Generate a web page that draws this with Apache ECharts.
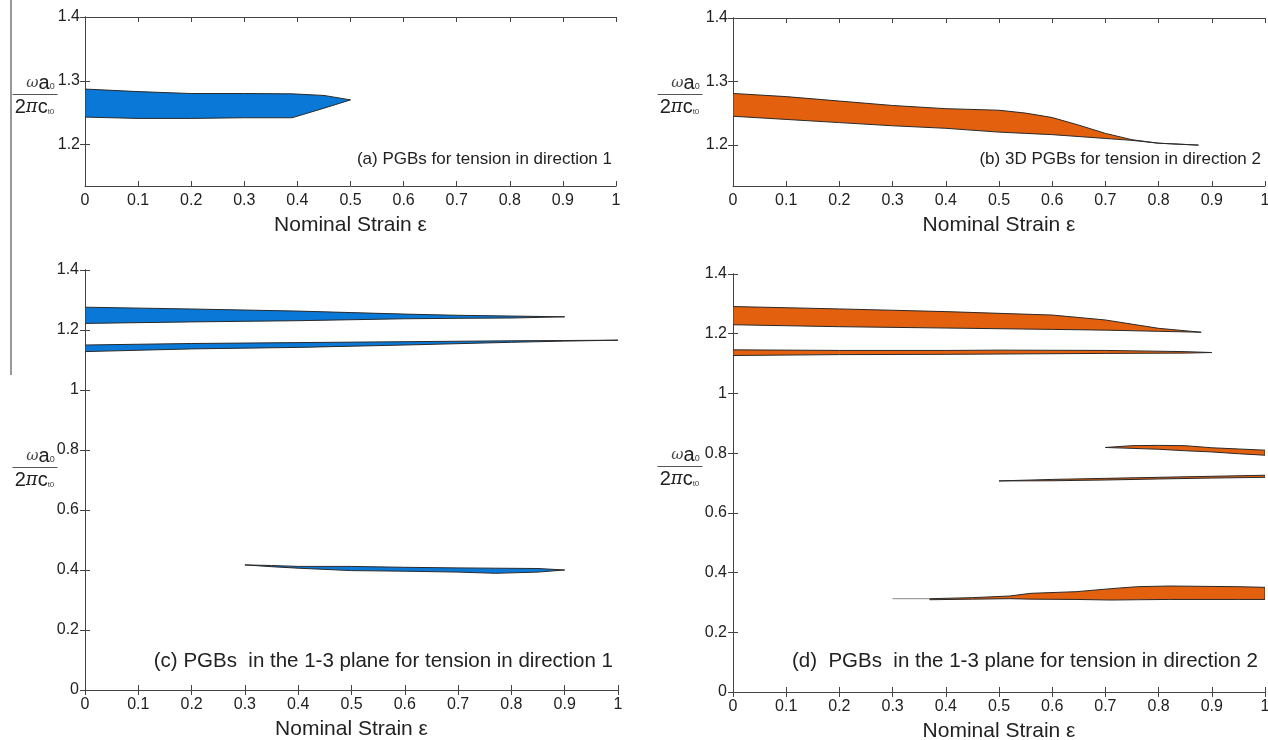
<!DOCTYPE html>
<html>
<head>
<meta charset="utf-8">
<script src="https://cdn.jsdelivr.net/npm/echarts@6/dist/echarts.min.js"></script>
<style>
  html, body { margin: 0; padding: 0; background: #fff; }
  #main { width: 1268px; height: 740px; }
</style>
</head>
<body>
<div id="main"></div>
<script>
// strain ticks (shared by all panels)
var strainTicks = [0, 0.1, 0.2, 0.3, 0.4, 0.5, 0.6, 0.7, 0.8, 0.9, 1];
var topTicks = [1.2, 1.3, 1.4];

// (a) PGB for tension in direction 1
var aX = [0, 0.1, 0.2, 0.3, 0.39, 0.45, 0.5];
var aUp = [1.287, 1.283, 1.280, 1.280, 1.2795, 1.277, 1.270];
var aLo = [1.243, 1.241, 1.241, 1.242, 1.242, 1.257, 1.270];

// (b) 3D PGB for tension in direction 2
var bX = [0, 0.1, 0.2, 0.3, 0.4, 0.5, 0.55, 0.6, 0.65, 0.7, 0.75, 0.8, 0.875];
var bUp = [1.281, 1.276, 1.269, 1.262, 1.257, 1.2545, 1.250, 1.243, 1.231, 1.218, 1.208, 1.2025, 1.1995];
var bLo = [1.245, 1.240, 1.235, 1.230, 1.226, 1.220, 1.218, 1.216, 1.213, 1.210, 1.207, 1.2025, 1.1995];

// (c) 1-3 plane, tension in direction 1
var c1X = [0, 0.2, 0.4, 0.6, 0.7, 0.8, 0.9];
var c1Up = [1.276, 1.270, 1.263, 1.253, 1.249, 1.2465, 1.244];
var c1Lo = [1.222, 1.227, 1.231, 1.2375, 1.239, 1.240, 1.244];
var c2X = [0, 0.2, 0.4, 0.6, 0.8, 0.9, 1];
var c2Up = [1.150, 1.155, 1.158, 1.161, 1.164, 1.165, 1.166];
var c2Lo = [1.128, 1.137, 1.142, 1.150, 1.159, 1.163, 1.166];
var c3X = [0.3, 0.35, 0.4, 0.5, 0.6, 0.7, 0.77, 0.85, 0.9];
var c3Up = [0.417, 0.415, 0.412, 0.412, 0.409, 0.407, 0.406, 0.405, 0.400];
var c3Lo = [0.417, 0.411, 0.406, 0.398, 0.396, 0.393, 0.389, 0.393, 0.400];

// (d) 1-3 plane, tension in direction 2
var d1X = [0, 0.2, 0.4, 0.6, 0.7, 0.8, 0.88];
var d1Up = [1.291, 1.283, 1.274, 1.2625, 1.246, 1.218, 1.205];
var d1Lo = [1.230, 1.2235, 1.219, 1.2145, 1.212, 1.208, 1.205];
var d2X = [0, 0.2, 0.4, 0.5, 0.7, 0.85, 0.9];
var d2Up = [1.146, 1.144, 1.144, 1.145, 1.144, 1.140, 1.137];
var d2Lo = [1.127, 1.130, 1.131, 1.132, 1.134, 1.135, 1.137];
var d3X = [0.7, 0.75, 0.8, 0.85, 0.9, 0.95, 1];
var d3Up = [0.819, 0.825, 0.826, 0.825, 0.818, 0.814, 0.810];
var d3Lo = [0.819, 0.816, 0.813, 0.808, 0.804, 0.798, 0.793];
var d4X = [0.5, 0.6, 0.7, 0.8, 0.9, 1];
var d4Up = [0.707, 0.712, 0.7155, 0.719, 0.7225, 0.726];
var d4Lo = [0.707, 0.7075, 0.710, 0.7135, 0.7165, 0.719];
var d5X = [0.37, 0.45, 0.52, 0.56, 0.645, 0.71, 0.76, 0.82, 0.95, 1];
var d5Up = [0.3125, 0.316, 0.3215, 0.3305, 0.336, 0.346, 0.3527, 0.355, 0.3527, 0.3506];
var d5Lo = [0.309, 0.311, 0.3125, 0.311, 0.310, 0.308, 0.309, 0.310, 0.310, 0.310];
var d5LeadX = [0.30, 0.37];
var d5LeadY = [0.3125, 0.3125];

var BLUE = '#0a78d6';
var ORANGE = '#e2600e';
var FONT = '"Liberation Sans", Arial, sans-serif';
var AXIS = '#444';

var myChart = echarts.init(document.getElementById('main'));

// grids: a, b, c, d
var grids = [
  { left: 85, top: 17, width: 531, height: 169, outerBoundsMode: 'none' },
  { left: 733, top: 18, width: 532, height: 168, outerBoundsMode: 'none' },
  { left: 85, top: 270, width: 533, height: 420, outerBoundsMode: 'none' },
  { left: 733, top: 274, width: 532, height: 418, outerBoundsMode: 'none' }
];

var xAxis = [];
var yAxis = [];
grids.forEach(function (g, i) {
  // bottom strain axis
  xAxis.push({
    gridIndex: i, type: 'value', min: 0, max: 1, interval: 0.1,
    name: 'Nominal Strain ε', nameLocation: 'middle', nameGap: 29,
    nameTextStyle: { fontFamily: FONT, fontSize: 21, color: '#222' },
    axisLine: { lineStyle: { color: AXIS, width: 1 } },
    axisTick: { inside: true, length: 5, lineStyle: { color: AXIS } },
    axisLabel: { fontFamily: FONT, fontSize: 16, color: '#222', margin: 7 },
    splitLine: { show: false }
  });
  // top mirror for the box
  xAxis.push({
    gridIndex: i, type: 'value', min: 0, max: 1, interval: 0.1, position: 'top',
    axisLine: { lineStyle: { color: AXIS, width: 1 } },
    axisTick: { inside: true, length: 5, lineStyle: { color: AXIS } },
    axisLabel: { show: false }, splitLine: { show: false }
  });
  var small = i < 2;
  var yBase = {
    gridIndex: i, type: 'value',
    min: small ? 1.135 : 0, max: 1.4,
    axisLine: { show: true, lineStyle: { color: AXIS, width: 1 } },
    splitLine: { show: false }
  };
  if (small) {
    yAxis.push(Object.assign({}, yBase, {
      axisTick: { inside: true, length: 5, lineStyle: { color: AXIS }, customValues: topTicks },
      axisLabel: { fontFamily: FONT, fontSize: 16, color: '#222', margin: 5, customValues: topTicks }
    }));
    yAxis.push(Object.assign({}, yBase, {
      position: 'right',
      axisTick: { inside: true, length: 5, lineStyle: { color: AXIS }, customValues: topTicks },
      axisLabel: { show: false, customValues: topTicks }
    }));
  } else {
    yAxis.push(Object.assign({}, yBase, {
      interval: 0.2,
      axisTick: { inside: true, length: 5, lineStyle: { color: AXIS } },
      axisLabel: { fontFamily: FONT, fontSize: 16, color: '#222', margin: 6 }
    }));
    yAxis.push(Object.assign({}, yBase, {
      interval: 0.2, position: 'right',
      axisTick: { inside: true, length: 5, lineStyle: { color: AXIS } },
      axisLabel: { show: false }
    }));
  }
});

// band = region between an upper and a lower curve sharing the same strain samples
function bandSeries(panel, bands, color) {
  return {
    type: 'custom',
    xAxisIndex: panel * 2,
    yAxisIndex: panel * 2,
    clip: true,
    data: bands.map(function (b) { return [b[0][0], b[1][0]]; }),
    renderItem: function (params, api) {
      var b = bands[params.dataIndex];
      var pts = [];
      for (var j = 0; j < b[0].length; j++) pts.push(api.coord([b[0][j], b[1][j]]));
      for (var k = b[0].length - 1; k >= 0; k--) pts.push(api.coord([b[0][k], b[2][k]]));
      return {
        type: 'polygon',
        shape: { points: pts },
        style: { fill: color, stroke: '#2a2a2a', lineWidth: 1 }
      };
    }
  };
}

var series = [
  bandSeries(0, [[aX, aUp, aLo]], BLUE),
  bandSeries(1, [[bX, bUp, bLo]], ORANGE),
  bandSeries(2, [[c1X, c1Up, c1Lo], [c2X, c2Up, c2Lo], [c3X, c3Up, c3Lo]], BLUE),
  bandSeries(3, [[d1X, d1Up, d1Lo], [d2X, d2Up, d2Lo], [d3X, d3Up, d3Lo], [d4X, d4Up, d4Lo], [d5X, d5Up, d5Lo]], ORANGE),
  {
    type: 'line', xAxisIndex: 6, yAxisIndex: 6, symbol: 'none', silent: true,
    lineStyle: { color: '#888', width: 1 },
    data: d5LeadX.map(function (x, i) { return [x, d5LeadY[i]]; })
  }
];

// y-axis name: omega a0 / 2 pi c_t0
function fraction(x, y) {
  return {
    type: 'group', left: x, top: y - 22,
    children: [
      { type: 'text', x: 28, y: 23, style: {
          text: '{w|ω}{a|a}{s|0}', align: 'center', verticalAlign: 'bottom',
          rich: {
            w: { fontFamily: 'DejaVu Serif', fontStyle: 'italic', fontSize: 15, fill: '#444' },
            a: { fontFamily: FONT, fontSize: 20, fill: '#222' },
            s: { fontFamily: FONT, fontSize: 9, fill: '#444', padding: [7, 0, 0, 0] }
          }
      } },
      { type: 'line', shape: { x1: 0, y1: 24.5, x2: 45, y2: 24.5 }, style: { stroke: '#555', lineWidth: 1 } },
      { type: 'text', x: 22, y: 27, style: {
          text: '{n|2}{p|π}{c|c}{s|t0}', align: 'center', verticalAlign: 'top',
          rich: {
            n: { fontFamily: FONT, fontSize: 20, fill: '#222' },
            p: { fontFamily: 'DejaVu Serif', fontStyle: 'italic', fontSize: 18, fill: '#222' },
            c: { fontFamily: FONT, fontSize: 20, fill: '#222' },
            s: { fontFamily: FONT, fontSize: 8, fill: '#444', padding: [9, 0, 0, 0] }
          }
      } }
    ]
  };
}

function note(text, right, y, size) {
  return {
    type: 'text', right: right, top: y,
    style: { text: text, fontFamily: FONT, fontSize: size, fill: '#222' }
  };
}

var option = {
  animation: false,
  backgroundColor: '#fff',
  grid: grids,
  xAxis: xAxis,
  yAxis: yAxis,
  series: series,
  graphic: [
    { type: 'line', shape: { x1: 11, y1: 0, x2: 11, y2: 375 }, style: { stroke: '#333', lineWidth: 1 } },
    fraction(10, 95),
    fraction(655, 95),
    fraction(10, 468),
    fraction(655, 467),
    note('(a) PGBs for tension in direction 1', 1268 - 612, 151, 17),
    note('(b) 3D PGBs for tension in direction 2', 1268 - 1261, 151, 17),
    note('(c) PGBs  in the 1-3 plane for tension in direction 1', 1268 - 613, 651, 20.5),
    note('(d)  PGBs  in the 1-3 plane for tension in direction 2', 1268 - 1258, 651, 20.5)
  ]
};

myChart.setOption(option);
</script>
</body>
</html>
